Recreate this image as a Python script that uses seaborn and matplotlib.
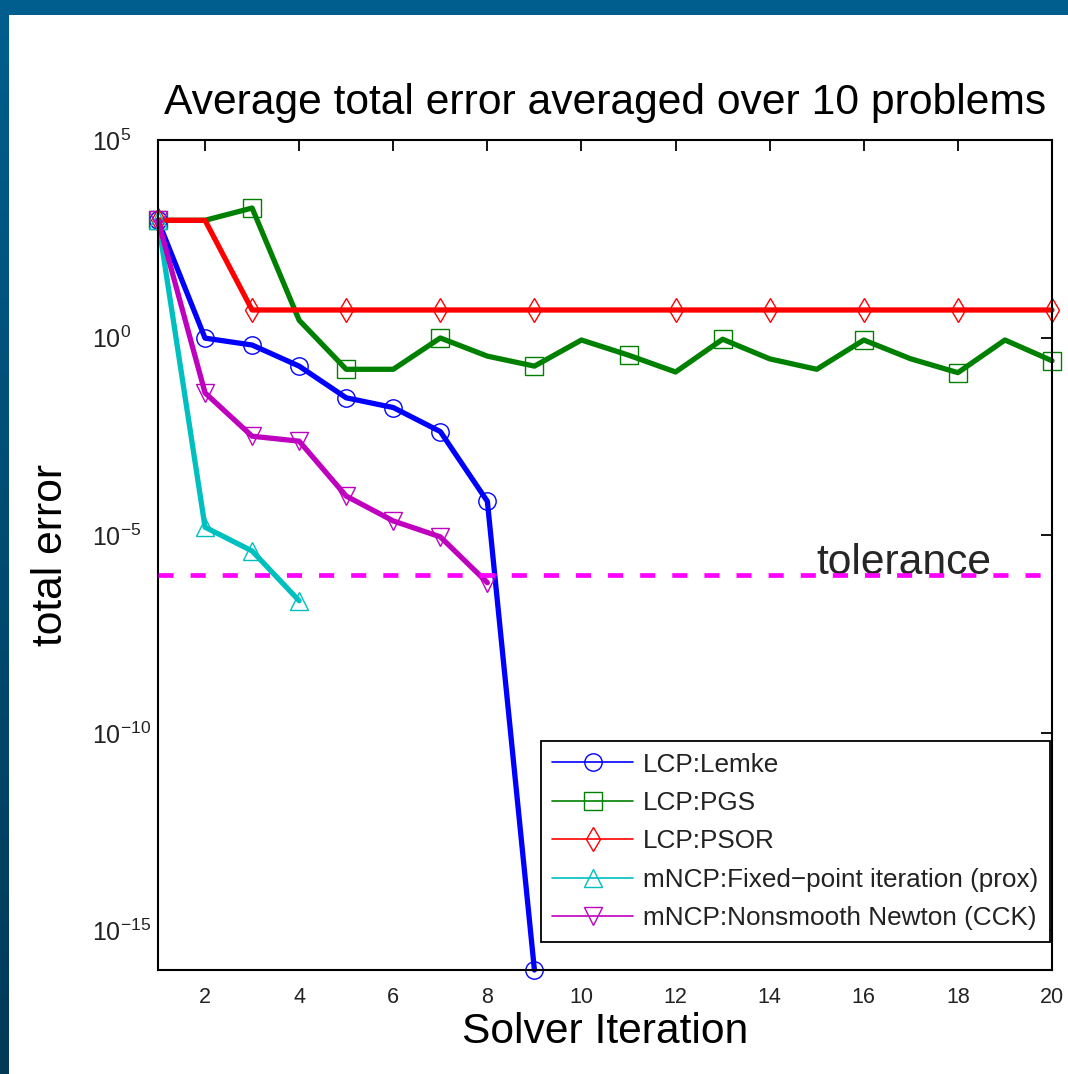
import numpy as np
import pandas as pd
import matplotlib
matplotlib.use("Agg")
import matplotlib.pyplot as plt
import seaborn as sns
from matplotlib.lines import Line2D
from matplotlib.ticker import FixedLocator, FuncFormatter, NullLocator
from matplotlib.colors import LinearSegmentedColormap

# ---------------- data ----------------
iters_lemke = [1, 2, 3, 4, 5, 6, 7, 8, 9]
err_lemke = [930, 0.97, 0.65, 0.19, 0.03, 0.017, 0.0042, 7.2e-5, 1e-16]

iters_pgs = list(range(1, 21))
err_pgs = [930, 930, 1900, 2.75, 0.158, 0.158, 0.98, 0.34, 0.19, 0.87,
           0.36, 0.135, 0.91, 0.29, 0.158, 0.87, 0.29, 0.13, 0.87, 0.26]

iters_psor = list(range(1, 21))
err_psor = [930, 930] + [5.0] * 18

iters_prox = [1, 2, 3, 4]
err_prox = [930, 1.6e-5, 4.0e-6, 2.2e-7]

iters_cck = [1, 2, 3, 4, 5, 6, 7, 8]
err_cck = [930, 0.04, 3.2e-3, 2.4e-3, 9.8e-5, 2.3e-5, 9.1e-6, 6.3e-7]

tolerance = 1e-6
tol_label = "tolerance"

labels = ["LCP:Lemke", "LCP:PGS", "LCP:PSOR",
          "mNCP:Fixed\u2212point iteration (prox)",
          "mNCP:Nonsmooth Newton (CCK)"]
title = "Average total error averaged over 10 problems"
xlabel = "Solver Iteration"
ylabel = "total error"
xticks = [2, 4, 6, 8, 10, 12, 14, 16, 18, 20]
yticks_exp = [5, 0, -5, -10, -15]

# ---------------- style ----------------
sns.set_theme(style="white")
plt.rcParams['font.family'] = ['Liberation Sans', 'DejaVu Sans']
plt.rcParams['mathtext.fontset'] = 'custom'
plt.rcParams['mathtext.rm'] = 'Liberation Sans'
plt.rcParams['mathtext.it'] = 'Liberation Sans:italic'
plt.rcParams['mathtext.bf'] = 'Liberation Sans:bold'

W, H = 1068, 1074
fig = plt.figure(figsize=(W / 100, H / 100), dpi=100, facecolor='white')

# blue frame (top strip + left gradient strip)
top_h = 15 / H
left_w = 9 / W
ax_top = fig.add_axes([0, 1 - top_h, 1, top_h])
ax_top.set_axis_off()
ax_top.add_patch(plt.Rectangle((0, 0), 1, 1, color='#005e8e', transform=ax_top.transAxes))
ax_left = fig.add_axes([0, 0, left_w, 1])
ax_left.set_axis_off()
cmap = LinearSegmentedColormap.from_list('bl', ['#003a57', '#005e8e'])
ax_left.imshow(np.linspace(0, 1, 256).reshape(-1, 1), aspect='auto', cmap=cmap,
               origin='lower', extent=[0, 1, 0, 1])

# main axes
x0, x1 = 158, 1052
y0, y1 = 140, 970
ax = fig.add_axes([x0 / W, 1 - y1 / H, (x1 - x0) / W, (y1 - y0) / H])
ax.set_facecolor('white')

lw = 3.8
ms = 12.5
mew = 1.0

series = [
    (iters_lemke, err_lemke, (0, 0, 1), 'o', None),
    (iters_pgs, err_pgs, (0, 0.5, 0), 's', [0, 2, 4, 6, 8, 10, 12, 15, 17, 19]),
    (iters_psor, err_psor, (1, 0, 0), 'd', [0, 2, 4, 6, 8, 11, 13, 15, 17, 19]),
    (iters_prox, err_prox, (0, 0.75, 0.75), '^', None),
    (iters_cck, err_cck, (0.75, 0, 0.75), 'v', None),
]

handles = []
for (xs, ys, col, mk, mev), lab in zip(series, labels):
    df = pd.DataFrame({"x": xs, "y": ys})
    sns.lineplot(data=df, x="x", y="y", ax=ax, color=col, linewidth=lw,
                 marker=mk, markersize=ms, markerfacecolor='none',
                 markeredgecolor=col, markeredgewidth=mew,
                 markevery=mev, clip_on=False, legend=False)
    handles.append(Line2D([], [], color=col, lw=1.2, marker=mk, markersize=ms,
                          markerfacecolor='none', markeredgecolor=col,
                          markeredgewidth=mew))

# tolerance line
ax.hlines(tolerance, 1, 19.8, colors=(1, 0, 1), linestyles=(0, (3.2, 3.6)),
          linewidth=3.4, zorder=5)
ax.text(15.0, tolerance * 1.05, tol_label, fontsize=30.7, ha='left', va='baseline',
        zorder=4)

ax.set_yscale('log')
ax.set_xlim(1, 20)
ax.set_ylim(1e-16, 1e5)

ax.xaxis.set_major_locator(FixedLocator(xticks))
ax.yaxis.set_major_locator(FixedLocator([10.0 ** e for e in yticks_exp]))
ax.yaxis.set_minor_locator(NullLocator())
ax.xaxis.set_minor_locator(NullLocator())
ax.yaxis.set_major_formatter(FuncFormatter(
    lambda v, p: r"$\mathregular{10^{%d}}$" % int(round(np.log10(v)))))
ax.tick_params(axis='both', which='major', direction='in', length=8, width=1.3,
               top=True, right=True, colors='black', labelcolor='#222222')
ax.tick_params(axis='x', labelsize=15.5, pad=12)
ax.tick_params(axis='y', labelsize=18, pad=(158 - 92) / 1.389)
for lab in ax.get_yticklabels():
    lab.set_horizontalalignment('left')
for s in ax.spines.values():
    s.set_visible(True)
    s.set_color('black')
    s.set_linewidth(1.5)

ax.set_title(title, fontsize=30.7, pad=19, color='black')
ax.set_xlabel(xlabel, fontsize=30.7, labelpad=3, color='black')
ax.set_ylabel(ylabel, fontsize=30.7, color='black')
ax.yaxis.set_label_coords(-0.097, 0.5)

leg = ax.legend(handles, labels, loc='lower right',
                bbox_to_anchor=(0.998, 0.034), fontsize=18.8, frameon=True,
                fancybox=False, shadow=False, borderaxespad=0,
                handlelength=3.1, handletextpad=0.38, labelspacing=0.55,
                borderpad=0.45)
leg.get_frame().set_edgecolor('black')
leg.get_frame().set_linewidth(1.3)
leg.get_frame().set_alpha(1)
for t in leg.get_texts():
    t.set_color('#222222')

fig.savefig("out.png", dpi=100, facecolor='white')
